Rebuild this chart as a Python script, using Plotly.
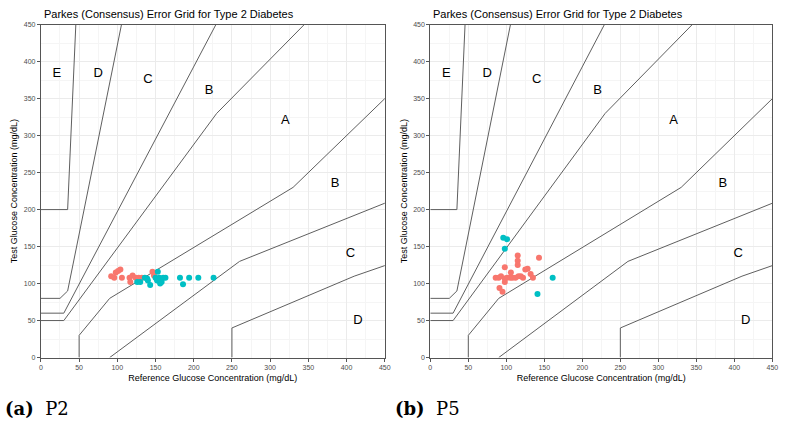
import plotly.graph_objects as go

W, H = 785, 423

# Parkes Type 2 zone boundary lines (x list, y list)
zone_lines = {
    "AB_upper": ([0, 30, 230, 440], [50, 50, 330, 550]),
    "AB_lower": ([50, 50, 90, 330, 550], [0, 30, 80, 230, 450]),
    "BC_upper": ([0, 30, 280], [60, 60, 550]),
    "BC_lower": ([90, 260, 550], [0, 130, 250]),
    "CD_upper": ([0, 25, 35, 125], [80, 80, 90, 550]),
    "CD_lower": ([250, 250, 410, 550], [0, 40, 110, 160]),
    "DE_upper": ([0, 35, 50], [200, 200, 550]),
}
zone_label_text = ["A", "B", "B", "C", "C", "D", "D", "E"]
zone_label_x = [320, 220, 385, 140, 405, 415, 75, 21]
zone_label_y = [320, 360, 235, 375, 140, 50, 383, 383]

# P2 data
p2_red_x = [92, 96, 98, 101, 104, 106, 116, 117, 120, 124, 128, 132, 146, 148]
p2_red_y = [110, 108, 115, 117, 119, 108, 108, 102, 111, 108, 108, 108, 116, 111]
p2_cyan_x = [126, 130, 136, 139, 140, 143, 150, 152, 153, 155, 156, 158, 160, 163, 182, 186, 194, 206, 226]
p2_cyan_y = [102, 102, 108, 107, 104, 98, 108, 104, 116, 108, 100, 102, 108, 108, 108, 99, 108, 108, 108]

# P5 data
p5_red_x = [115, 115, 115, 143, 98, 106, 125, 128, 132, 135, 86, 90, 93, 98, 101, 105, 108, 112, 116, 119, 98, 91, 95, 122]
p5_red_y = [138, 131, 125, 135, 122, 115, 119, 120, 113, 108, 108, 108, 110, 107, 108, 108, 108, 108, 110, 110, 102, 94, 89, 108]
p5_cyan_x = [96, 101, 98, 161, 141]
p5_cyan_y = [162, 160, 147, 108, 86]

RED = "#F8766D"
CYAN = "#00BFC4"
LINE = "#5f5f5f"

title_text = "Parkes (Consensus) Error Grid for Type 2 Diabetes"
x_title = "Reference Glucose Concentration (mg/dL)"
y_title = "Test Glucose Concentration (mg/dL)"

fig = go.Figure()

panels = [
    ("x", "y", p2_red_x, p2_red_y, p2_cyan_x, p2_cyan_y),
    ("x2", "y2", p5_red_x, p5_red_y, p5_cyan_x, p5_cyan_y),
]

for xa, ya, rx, ry, cx, cy in panels:
    for name, (lx, ly) in zone_lines.items():
        fig.add_trace(go.Scatter(x=lx, y=ly, mode="lines", xaxis=xa, yaxis=ya,
                                 line=dict(color=LINE, width=1), showlegend=False,
                                 hoverinfo="skip"))
    fig.add_trace(go.Scatter(x=zone_label_x, y=zone_label_y, text=zone_label_text,
                             mode="text", xaxis=xa, yaxis=ya, showlegend=False,
                             textfont=dict(family="Liberation Sans, Arial", size=13, color="black")))
    fig.add_trace(go.Scatter(x=rx, y=ry, mode="markers", xaxis=xa, yaxis=ya, showlegend=False,
                             marker=dict(color=RED, size=6, line=dict(width=0))))
    fig.add_trace(go.Scatter(x=cx, y=cy, mode="markers", xaxis=xa, yaxis=ya, showlegend=False,
                             marker=dict(color=CYAN, size=6, line=dict(width=0))))

y0 = 1 - 359.5 / H
y1 = 1 - 21 / H
dom1 = [39.3 / W, 386.7 / W]
dom2 = [432.7 / W, 778.3 / W]

def xaxis(dom, anchor):
    return dict(domain=dom, anchor=anchor, range=[0, 450], tickvals=[0, 50, 100, 150, 200, 250, 300, 350, 400, 450],
                showgrid=True, gridcolor="#EBEBEB", gridwidth=1,
                minor=dict(dtick=25, showgrid=True, gridcolor="#F5F5F5", gridwidth=0.5),
                showline=True, linecolor="#555555", linewidth=1, mirror=True,
                ticks="outside", ticklen=3, tickcolor="#555555",
                tickfont=dict(family="Liberation Sans, Arial", size=7, color="#4D4D4D"),
                title=dict(text=x_title, font=dict(family="Liberation Sans, Arial", size=9, color="black"), standoff=4),
                zeroline=False, fixedrange=True)

def yaxis(anchor):
    return dict(domain=[y0, y1], anchor=anchor, range=[0, 450], tickvals=[0, 50, 100, 150, 200, 250, 300, 350, 400, 450],
                showgrid=True, gridcolor="#EBEBEB", gridwidth=1,
                minor=dict(dtick=25, showgrid=True, gridcolor="#F5F5F5", gridwidth=0.5),
                showline=True, linecolor="#555555", linewidth=1, mirror=True,
                ticks="outside", ticklen=3, tickcolor="#555555",
                tickfont=dict(family="Liberation Sans, Arial", size=7, color="#4D4D4D"),
                title=dict(text=y_title, font=dict(family="Liberation Sans, Arial", size=9, color="black"), standoff=4),
                zeroline=False, fixedrange=True)

fig.update_layout(
    width=W, height=H,
    margin=dict(l=0, r=0, t=0, b=0),
    paper_bgcolor="white", plot_bgcolor="white",
    xaxis=xaxis(dom1, "y"), yaxis=yaxis("x"),
    xaxis2=xaxis(dom2, "y2"), yaxis2=yaxis("x2"),
    showlegend=False,
)

annotations = [
    dict(text=title_text, x=40 / W, y=1 - 10 / H, xref="paper", yref="paper", xanchor="left", yanchor="middle",
         showarrow=False, font=dict(family="Liberation Sans, Arial", size=11, color="black")),
    dict(text=title_text, x=433 / W, y=1 - 10 / H, xref="paper", yref="paper", xanchor="left", yanchor="middle",
         showarrow=False, font=dict(family="Liberation Sans, Arial", size=11, color="black")),
    dict(text="<b>(a)</b>  P2", x=1 / W, y=1 - 411 / H, xref="paper", yref="paper", xanchor="left", yanchor="middle",
         showarrow=False, font=dict(family="DejaVu Serif", size=18, color="black")),
    dict(text="<b>(b)</b>  P5", x=395 / W, y=1 - 411 / H, xref="paper", yref="paper", xanchor="left", yanchor="middle",
         showarrow=False, font=dict(family="DejaVu Serif", size=18, color="black")),
]
fig.update_layout(annotations=annotations)

fig.write_html("out.html")
